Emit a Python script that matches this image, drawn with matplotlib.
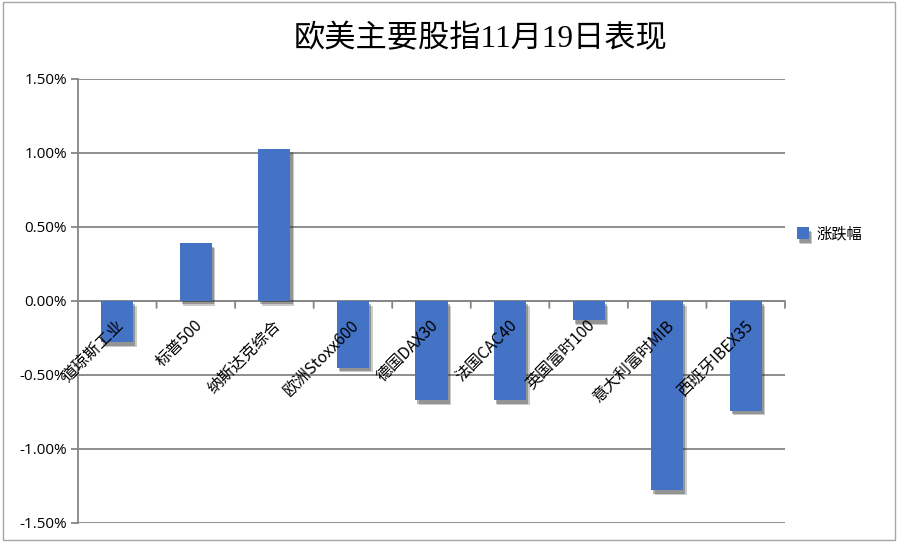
import matplotlib
matplotlib.use("Agg")
import matplotlib.pyplot as plt
import matplotlib.patheffects as pe
from matplotlib.patches import Rectangle
from matplotlib.ticker import FuncFormatter, MultipleLocator

plt.rcParams['font.family'] = ['Noto Sans CJK SC', 'DejaVu Sans']

categories = ["道琼斯工业", "标普500", "纳斯达克综合", "欧洲Stoxx600", "德国DAX30",
              "法国CAC40", "英国富时100", "意大利富时MIB", "西班牙IBEX35"]
values = [-0.28, 0.39, 1.03, -0.45, -0.67, -0.67, -0.13, -1.28, -0.74]
series_name = "涨跌幅"
title = "欧美主要股指11月19日表现"

W, H = 898, 546
fig = plt.figure(figsize=(W / 100, H / 100), dpi=100)
ax = fig.add_axes([78 / W, 1 - 523 / H, (785 - 78) / W, (523 - 79) / H])

bar_color = "#4472C4"
grid_color = "#868686"
x = range(len(categories))
bars = ax.bar(x, values, width=0.41, color=bar_color, zorder=3, label=series_name)
for b in bars:
    b.set_path_effects([
        pe.SimplePatchShadow(offset=(2.5, -3.5), shadow_rgbFace="#303030", alpha=0.25),
        pe.SimplePatchShadow(offset=(1.5, -2.5), shadow_rgbFace="#303030", alpha=0.35),
        pe.Normal()])

ax.set_xlim(-0.5, len(categories) - 0.5)
ax.set_ylim(-1.5, 1.5)
ax.yaxis.set_major_locator(MultipleLocator(0.5))
ax.yaxis.set_major_formatter(FuncFormatter(lambda v, p: f"{v:.2f}%"))
ax.grid(axis="y", color=grid_color, linewidth=1.3, zorder=0)
for s in ["top", "right", "bottom"]:
    ax.spines[s].set_visible(False)
ax.spines["left"].set_color(grid_color)
ax.spines["left"].set_linewidth(1.3)
ax.tick_params(axis="y", direction="out", length=5, width=1.3, color=grid_color,
               labelsize=11, pad=3)
for lbl in ax.get_yticklabels():
    lbl.set_family(["Open Sans", "DejaVu Sans"])
ax.set_xticks([])

# zero axis with category boundary ticks
ax.axhline(0, color=grid_color, linewidth=1.3, zorder=2)
for i in range(1, len(categories) + 1):
    ax.annotate("", xy=(i - 0.5, 0), xycoords="data", xytext=(0, -5), textcoords="offset points",
                arrowprops=dict(arrowstyle="-", color=grid_color, lw=1.3, shrinkA=0, shrinkB=0))

# category labels, rotated
for i, c in enumerate(categories):
    ax.annotate(c, xy=(i, 0), xycoords="data", xytext=(3, -16), textcoords="offset points",
                rotation=45, rotation_mode="anchor", ha="right", va="center",
                fontsize=11.5, zorder=5)

fig.text(481 / W, 1 - 40 / H, title, ha="center", va="center", fontsize=22.5,
         family=["Liberation Serif", "Noto Sans CJK SC"])

fig.legend(handles=[bars], labels=[series_name], loc="center left",
           bbox_to_anchor=(783 / W, 1 - 234 / H), frameon=False, fontsize=11,
           handlelength=0.8, handleheight=0.8, handletextpad=0.5)

fig.patches.append(Rectangle((3 / W, 1 - 540 / H), 892 / W, 538 / H, transform=fig.transFigure,
                             fill=False, edgecolor="#A6A6A6", linewidth=1))

fig.savefig("out.png", dpi=100)
